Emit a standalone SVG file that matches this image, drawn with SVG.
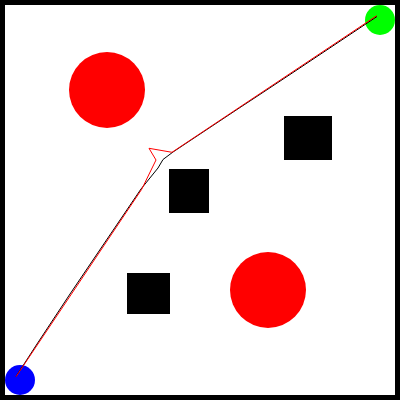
<svg xmlns="http://www.w3.org/2000/svg" width="400" height="400" viewBox="0 0 400 400">
<style>
.obs{fill:#ff0000}
.box{fill:#000}
.path{fill:none;stroke-width:1}
</style>
<rect x="0" y="0" width="400" height="400" fill="#fff"/>
<rect x="2.5" y="2.5" width="395" height="395" fill="none" stroke="#000" stroke-width="5"/>
<g id="obstacles">
<circle class="obs" cx="107" cy="90" r="38"/>
<circle class="obs" cx="268" cy="290" r="38"/>
<rect class="box" x="284" y="116" width="48" height="44"/>
<rect class="box" x="169" y="169" width="40" height="44"/>
<rect class="box" x="127" y="273" width="43" height="41"/>
</g>
<g id="goal"><circle cx="380" cy="20" r="15" fill="#00ff00"/></g>
<g id="start"><circle cx="20" cy="380" r="15" fill="#0000ff"/></g>
<g id="connectors">
<polyline class="path" stroke="#000" points="377,16.5 290,74.5 256,97 240,107.5 185,144 173,152 163,159.5 158,168 141,189 106.5,240 70,294 37,344 16,376.5"/>
<polyline class="path" stroke="#ff0000" points="376.7,15.7 172,152.3 149,148.3 156,160 141.7,189.3 16,376.7"/>
</g>
</svg>
